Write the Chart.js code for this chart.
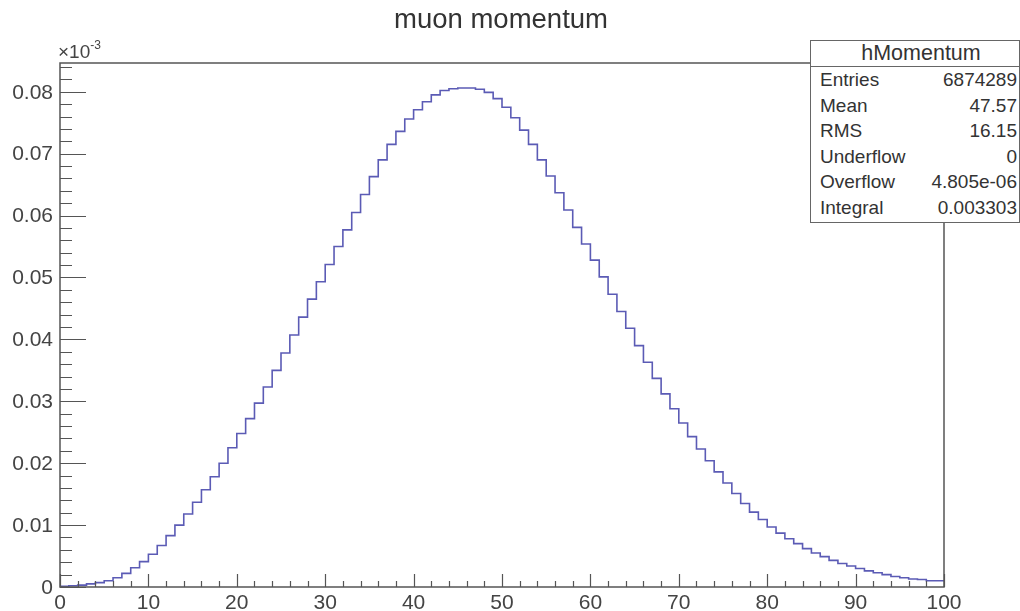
<!DOCTYPE html>
<html lang="en">
<head>
    <meta charset="UTF-8">
    <title>muon momentum</title>
    <script src="https://cdn.jsdelivr.net/npm/chart.js"></script>
    <style>
        body {
            margin: 0;
            padding: 0;
            background: white;
            font-family: 'Liberation Sans', Arial, Helvetica, sans-serif;
            color: #333;
        }

        .wrap {
            position: relative;
            width: 1020px;
            height: 611px;
            overflow: hidden;
        }

        #chart {
            position: absolute;
            left: 0;
            top: 0;
        }

        .title {
            position: absolute;
            left: 0;
            width: 1002px;
            top: 3px;
            text-align: center;
            font-size: 27.5px;
            color: #333;
        }

        .exponent {
            position: absolute;
            left: 58px;
            top: 40px;
            font-size: 19px;
            color: #444;
        }

        .exponent sup {
            font-size: 12px;
            position: relative;
            top: -2px;
        }

        .stats {
            position: absolute;
            left: 810px;
            top: 40px;
            width: 210px;
            height: 183px;
            background: white;
            border: 1.5px solid #666;
            box-sizing: border-box;
        }

        .stats .head {
            height: 25px;
            line-height: 25px;
            text-align: center;
            font-size: 21.5px;
            border-bottom: 1.5px solid #666;
            padding-left: 12px;
        }

        .stats .row {
            position: absolute;
            left: 9px;
            right: 2px;
            font-size: 19px;
            line-height: 20px;
            display: flex;
            justify-content: space-between;
        }
    </style>
</head>
<body>
<div class="wrap">
    <canvas id="chart" width="1020" height="611"></canvas>
    <div class="title">muon momentum</div>
    <div class="exponent">×10<sup>-3</sup></div>
    <div class="stats" id="stats">
        <div class="head">hMomentum</div>
    </div>
</div>

<script>
    // histogram hMomentum, 100 bins from 0 to 100 (values in units of 10^-3)
    const xMin = 0;
    const xMax = 100;
    const momentum = [
        0.0000, 0.0001, 0.0002, 0.0003, 0.0005, 0.0007, 0.0010, 0.0015, 0.0022, 0.0031,
        0.0041, 0.0053, 0.0067, 0.0083, 0.0100, 0.0118, 0.0137, 0.0157, 0.0178, 0.0200,
        0.0225, 0.0248, 0.0272, 0.0297, 0.0323, 0.0350, 0.0378, 0.0407, 0.0436, 0.0465,
        0.0493, 0.0521, 0.0550, 0.0577, 0.0605, 0.0634, 0.0663, 0.0690, 0.0715, 0.0736,
        0.0756, 0.0771, 0.0784, 0.0795, 0.0802, 0.0805, 0.0806, 0.0806, 0.0804, 0.0799,
        0.0789, 0.0775, 0.0758, 0.0738, 0.0715, 0.0690, 0.0664, 0.0637, 0.0609, 0.0581,
        0.0554, 0.0528, 0.0501, 0.0473, 0.0445, 0.0418, 0.0390, 0.0363, 0.0337, 0.0312,
        0.0288, 0.0265, 0.0243, 0.0223, 0.0204, 0.0186, 0.0168, 0.0151, 0.0135, 0.0121,
        0.0109, 0.0097, 0.0087, 0.0078, 0.0070, 0.0062, 0.0055, 0.0049, 0.0043, 0.0038,
        0.0034, 0.0030, 0.0026, 0.0023, 0.0020, 0.0017, 0.0015, 0.0013, 0.0012, 0.0010
    ];

    const xTicks = [0, 10, 20, 30, 40, 50, 60, 70, 80, 90, 100];
    const yTicks = [0, 0.01, 0.02, 0.03, 0.04, 0.05, 0.06, 0.07, 0.08];
    const yTickLabels = ['0', '0.01', '0.02', '0.03', '0.04', '0.05', '0.06', '0.07', '0.08'];
    const yMax = 0.08465;

    const statsLabels = ['Entries', 'Mean', 'RMS', 'Underflow', 'Overflow', 'Integral'];
    const statsValues = ['6874289', '47.57', '16.15', '0', '4.805e-06', '0.003303'];

    // stats box rows
    const statsBox = document.getElementById('stats');
    statsLabels.forEach((label, i) => {
        const row = document.createElement('div');
        row.className = 'row';
        row.style.top = (29 + i * 25.6) + 'px';
        row.innerHTML = `<span>${label}</span><span>${statsValues[i]}</span>`;
        statsBox.appendChild(row);
    });

    // bin edges -> step points
    const binWidth = (xMax - xMin) / momentum.length;
    const points = momentum.map((v, i) => ({ x: xMin + i * binWidth, y: v }));
    points.push({ x: xMax, y: momentum[momentum.length - 1] });

    const axisColor = '#555';
    const labelFont = '21px "Liberation Sans", Arial, sans-serif';

    const frameAndAxes = {
        id: 'frameAndAxes',
        afterDraw(chart) {
            const ctx = chart.ctx;
            const area = chart.chartArea;
            const xs = chart.scales.x;
            const ys = chart.scales.y;

            ctx.save();
            ctx.strokeStyle = axisColor;
            ctx.lineWidth = 1.5;
            ctx.strokeRect(area.left, area.top, area.right - area.left, area.bottom - area.top);

            ctx.lineWidth = 1.2;
            ctx.beginPath();
            // x axis ticks (inside, pointing up)
            for (let v = xMin; v <= xMax + 1e-9; v += 2) {
                const px = Math.round(xs.getPixelForValue(v)) + 0.5;
                const len = (v % 10 === 0) ? 13 : 6;
                ctx.moveTo(px, area.bottom);
                ctx.lineTo(px, area.bottom - len);
            }
            // y axis ticks (inside, pointing right)
            for (let k = 0; k * 0.002 <= yMax; k++) {
                const py = Math.round(ys.getPixelForValue(k * 0.002)) + 0.5;
                const len = (k % 5 === 0) ? 26 : 12;
                ctx.moveTo(area.left, py);
                ctx.lineTo(area.left + len, py);
            }
            ctx.stroke();

            ctx.fillStyle = '#444';
            ctx.font = labelFont;
            ctx.textAlign = 'center';
            ctx.textBaseline = 'middle';
            xTicks.forEach(v => {
                ctx.fillText(String(v), xs.getPixelForValue(v), area.bottom + 16);
            });
            ctx.textAlign = 'right';
            yTicks.forEach((v, i) => {
                ctx.fillText(yTickLabels[i], area.left - 7, ys.getPixelForValue(v) + 1);
            });
            ctx.restore();
        }
    };

    new Chart(document.getElementById('chart'), {
        type: 'line',
        data: {
            datasets: [{
                label: 'hMomentum',
                data: points,
                stepped: 'after',
                borderColor: '#5b5bb5',
                borderWidth: 1.6,
                pointRadius: 0,
                fill: false
            }]
        },
        options: {
            responsive: false,
            animation: false,
            layout: {
                padding: { left: 60, right: 76, top: 63, bottom: 24 }
            },
            scales: {
                x: { type: 'linear', min: xMin, max: xMax, display: false },
                y: { type: 'linear', min: 0, max: yMax, display: false }
            },
            plugins: {
                legend: { display: false },
                tooltip: { enabled: false }
            }
        },
        plugins: [frameAndAxes]
    });
</script>
</body>
</html>
